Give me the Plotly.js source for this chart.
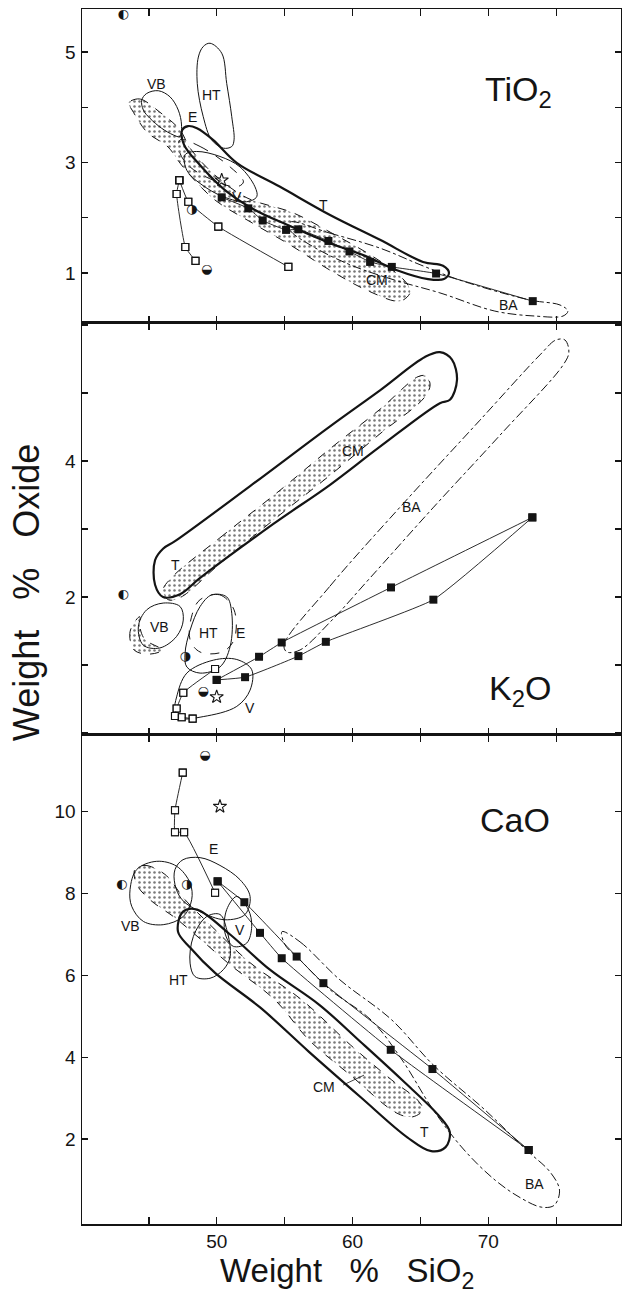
<!DOCTYPE html>
<html><head><meta charset="utf-8">
<script src="https://cdn.plot.ly/plotly-3.0.1.min.js"></script>
<style>html,body{margin:0;padding:0;background:#fff}</style>
</head><body><div id="chart" style="width:622px;height:1297px"></div>
<script>
// ---------------- axis ticks ----------------
const X_TICKS = [50,60,70];
const X_TICK_TEXT = ['50','60','70'];
const X_MINOR_STEP = 5;
const TI_TICKS = [1,3,5];
const TI_TICK_TEXT = ['1','3','5'];
const K_TICKS = [2,4];
const K_TICK_TEXT = ['2','4'];
const Y_MINOR_STEP = 1;
const CA_TICKS = [2,4,6,8,10];
const CA_TICK_TEXT = ['2','4','6','8','10'];

// ---------------- TiO2 panel ----------------
const TI_OPEN_A_X = [47.24,47.04,47.68,48.43];
const TI_OPEN_A_Y = [2.68,2.43,1.47,1.22];
const TI_OPEN_B_X = [47.24,47.90,50.11,55.27];
const TI_OPEN_B_Y = [2.68,2.29,1.84,1.11];
const TI_FILL_X = [50.36,52.32,53.38,55.10,56.01,58.22,59.77,61.29,62.89,66.15,73.27];
const TI_FILL_Y = [2.37,2.17,1.95,1.78,1.79,1.58,1.39,1.20,1.11,0.99,0.49];
const TI_HALF_X = [43.10,48.15,49.25];
const TI_HALF_Y = [5.67,2.14,1.05];
const TI_HALF_GLYPH = ['◐','◑','◒'];
const TI_STAR_X = [50.36];
const TI_STAR_Y = [2.68];

const TI_HT_X = [49.50,50.36,50.73,51.10,51.27,51.10,50.48,49.62,49.00,48.56,48.64,49.00];
const TI_HT_Y = [5.16,4.98,4.43,3.83,3.41,3.29,3.26,3.41,3.83,4.43,4.91,5.10];
const TI_VB_X = [44.47,44.83,45.69,46.55,47.16,47.40,47.28,46.79,45.94,45.08,44.59];
const TI_VB_Y = [4.13,4.25,4.30,4.19,3.95,3.68,3.47,3.50,3.62,3.80,3.95];
const TI_V_X = [47.66,48.52,50.23,51.71,52.81,52.94,52.20,50.48,48.77,47.79];
const TI_V_Y = [3.14,3.20,3.11,2.92,2.56,2.38,2.29,2.38,2.62,2.86];
const TI_E_X = [47.29,48.77,50.98,51.96,51.47,49.74,48.03,47.29];
const TI_E_Y = [3.41,3.29,2.92,2.65,2.56,2.68,2.92,3.17];
const TI_T_X = [47.45,47.88,48.54,49.72,51.49,54.66,58.34,62.02,65.19,66.66,67.10,66.73,65.56,63.27,60.92,58.34,55.39,52.81,50.60,48.77,47.59];
const TI_T_Y = [3.59,3.66,3.62,3.41,2.99,2.56,2.05,1.60,1.20,1.13,1.00,0.89,0.89,1.05,1.31,1.54,1.85,2.14,2.50,2.95,3.32];
const TI_CM_X = [43.61,44.35,45.81,47.29,48.03,49.87,52.22,55.61,58.34,61.29,63.12,64.08,64.23,63.49,61.29,58.34,55.39,52.51,49.87,48.03,47.29,46.41,44.86,43.76,43.47];
const TI_CM_Y = [4.11,4.15,3.91,3.59,3.26,2.77,2.36,2.09,1.74,1.33,1.02,0.78,0.64,0.49,0.66,1.05,1.51,1.92,2.32,2.77,2.99,3.28,3.55,3.95,4.08];
const TI_BA_X = [55.39,58.34,62.02,64.97,67.91,73.06,75.28,75.86,75.50,73.43,70.48,66.43,63.12,59.80,56.86,55.39];
const TI_BA_Y = [1.92,1.72,1.45,1.15,0.87,0.51,0.42,0.31,0.22,0.22,0.31,0.64,0.87,1.15,1.51,1.78];
const TI_LABELS = ['VB','HT','E','V','T','CM','BA'];
const TI_LABEL_X = [45.57,49.62,48.24,51.47,57.83,61.79,71.47];
const TI_LABEL_Y = [4.43,4.22,3.83,2.38,2.23,0.87,0.42];

// ---------------- K2O panel ----------------
const K_OPEN_X = [49.87,47.53,47.04,46.92,47.41,48.22];
const K_OPEN_Y = [0.94,0.59,0.36,0.25,0.23,0.21];
const K_FILL_UP_X = [49.99,53.11,54.78,62.83,73.24];
const K_FILL_UP_Y = [0.78,1.12,1.33,2.14,3.17];
const K_FILL_LO_X = [49.99,52.08,56.01,58.03,65.95,73.24];
const K_FILL_LO_Y = [0.78,0.82,1.13,1.34,1.96,3.17];
const K_HALF_X = [43.10,47.66,49.00];
const K_HALF_Y = [2.03,1.12,0.61];
const K_HALF_GLYPH = ['◐','◑','◒'];
const K_STAR_X = [49.99];
const K_STAR_Y = [0.53];

const K_T_X = [45.45,46.04,46.92,52.45,58.34,62.02,65.33,66.43,67.32,67.69,67.17,66.43,62.02,58.34,54.14,48.77,47.29,46.04,45.45];
const K_T_Y = [2.54,2.71,2.82,3.63,4.51,5.04,5.53,5.60,5.49,5.19,4.90,4.85,4.21,3.65,3.07,2.28,2.04,2.00,2.18];
const K_CM_X = [46.70,50.23,54.66,58.34,62.02,64.82,65.41,65.71,65.27,62.02,58.34,54.66,50.23,47.29,46.41,46.04];
const K_CM_Y = [2.29,2.87,3.57,4.18,4.76,5.24,5.25,5.12,4.93,4.40,3.79,3.21,2.49,1.99,1.96,2.10];
const K_LOBE_X = [44.32,43.61,43.91,45.09,45.97,44.72,44.35];
const K_LOBE_Y = [1.71,1.49,1.22,1.16,1.22,1.37,1.54];
const K_VB_X = [44.22,44.83,46.05,47.29,47.53,47.04,45.81,44.59];
const K_VB_Y = [1.56,1.81,1.91,1.86,1.66,1.42,1.25,1.29];
const K_HT_X = [49.62,50.73,51.10,50.98,50.23,48.77,47.79,47.66,48.03,48.77];
const K_HT_Y = [2.03,2.00,1.76,1.27,0.97,0.88,0.97,1.17,1.51,1.86];
const K_E_X = [48.77,50.23,51.27,51.27,50.39,48.77,48.03,48.18];
const K_E_Y = [1.96,2.03,1.81,1.37,1.19,1.19,1.37,1.74];
const K_V_X = [47.04,47.79,49.74,51.47,52.57,52.45,51.47,49.00,47.29,46.92];
const K_V_Y = [0.53,0.88,1.07,1.08,0.93,0.63,0.39,0.24,0.22,0.34];
const K_BA_X = [54.95,58.34,63.49,69.38,73.80,74.98,75.64,75.93,75.50,70.86,65.92,61.29,58.34,56.13,55.17];
const K_BA_Y = [1.29,2.16,3.32,4.60,5.56,5.78,5.78,5.60,5.41,4.38,3.31,2.28,1.63,1.22,1.19];
const K_LABELS = ['T','CM','BA','VB','HT','E','V'];
const K_LABEL_X = [46.92,60.03,64.36,45.81,49.37,51.71,52.45];
const K_LABEL_Y = [2.47,4.14,3.33,1.56,1.47,1.47,0.36];

// ---------------- CaO panel ----------------
const C_OPEN_X = [47.49,46.92,46.92,47.59,49.87];
const C_OPEN_Y = [10.96,10.04,9.50,9.50,8.02];
const C_FILL_A_X = [50.06,52.03,55.88,57.85,65.88,72.97];
const C_FILL_A_Y = [8.30,7.79,6.46,5.81,3.71,1.73];
const C_FILL_B_X = [50.06,53.18,54.78,62.81,72.97];
const C_FILL_B_Y = [8.30,7.04,6.42,4.18,1.73];
const C_HALF_X = [49.12,43.00,47.78];
const C_HALF_Y = [11.37,8.22,8.22];
const C_HALF_GLYPH = ['◒','◐','◑'];
const C_STAR_X = [50.23];
const C_STAR_Y = [10.13];

const C_VB_X = [43.61,44.10,45.57,47.04,48.03,48.15,47.53,46.05,44.59,43.73];
const C_VB_Y = [8.10,8.59,8.79,8.67,8.26,7.85,7.44,7.24,7.32,7.69];
const C_CM_X = [43.96,44.71,46.18,47.66,49.50,52.45,56.26,59.84,62.89,64.79,65.18,64.41,63.27,59.84,56.79,54.28,50.98,48.40,46.92,45.08,44.11];
const C_CM_Y = [8.59,8.69,8.47,7.85,7.24,6.31,5.40,4.30,3.44,2.95,2.71,2.54,2.63,3.56,4.42,5.40,6.26,7.00,7.41,7.85,8.22];
const C_T_X = [47.51,48.54,50.98,53.91,57.55,60.60,63.65,66.32,67.16,66.85,65.79,64.03,60.60,56.79,53.21,49.87,48.03,47.14];
const C_T_Y = [7.56,7.61,7.00,6.14,5.28,4.37,3.44,2.58,2.17,1.80,1.70,2.04,3.02,4.13,5.21,6.06,6.68,7.07];
const C_HT_X = [48.27,49.26,50.23,50.73,50.98,50.48,49.50,48.40,48.03];
const C_HT_Y = [6.95,7.44,7.49,7.12,6.46,6.14,5.93,5.97,6.30];
const C_E_X = [46.92,47.51,48.77,50.23,51.71,52.45,52.08,50.60,48.77,47.44,46.92];
const C_E_Y = [8.59,8.83,8.88,8.69,8.34,7.93,7.49,7.36,7.56,7.85,8.22];
const C_V_X = [50.73,51.47,52.32,52.57,52.20,51.22,50.60];
const C_V_Y = [7.61,7.93,7.61,7.20,6.79,6.71,7.04];
const C_BA_X = [54.80,56.13,59.07,62.89,65.94,69.75,72.80,74.55,75.24,74.86,73.94,72.42,70.51,68.22,65.94,63.65,61.36,58.34,56.13,55.02];
const C_BA_Y = [7.07,6.82,5.89,4.91,3.81,2.71,1.73,1.19,0.75,0.38,0.33,0.55,0.99,1.73,2.71,3.93,4.91,5.65,6.38,6.75];
const C_CM_LEADER_X = [59.31,60.84];
const C_CM_LEADER_Y = [3.32,3.56];
const C_LABELS = ['E','VB','V','HT','CM','T','BA'];
const C_LABEL_X = [49.74,43.61,51.71,47.17,57.93,65.30,73.43];
const C_LABEL_Y = [9.08,7.20,7.12,5.89,3.26,2.17,0.91];

// ---------------- panel names ----------------
const PANEL_NAMES = ['TiO<sub>2</sub>','K<sub>2</sub>O','CaO'];
const PANEL_NAME_X = [72.2,72.33,71.97];
const PANEL_NAME_Y = [4.28,0.63,9.79];

// ================= drawing =================
const FONT = 'Liberation Sans, Arial, Helvetica, sans-serif';
const INK = '#141414';
const traces = [];

function loop(a){ return a.concat([a[0]]); }
function field(xs, ys, xa, ya, opt){
  const t = {type:'scatter', mode:'lines', x:loop(xs), y:loop(ys), xaxis:xa, yaxis:ya,
    line:{color:INK, width:opt.width||1, dash:opt.dash||'solid', shape:'spline', smoothing:1},
    hoverinfo:'skip', showlegend:false};
  if (opt.stipple){
    t.fill = 'toself';
    t.fillcolor = 'rgba(255,255,255,0)';
    t.fillpattern = {shape:'.', size:5, solidity:0.2, fgcolor:'#777', bgcolor:'rgba(255,255,255,0)'};
  }
  traces.push(t);
}
function series(xs, ys, xa, ya, sym, size, lineMode){
  const open = sym.indexOf('open') >= 0;
  traces.push({type:'scatter', mode: lineMode ? 'lines+markers' : 'markers', x:xs, y:ys, xaxis:xa, yaxis:ya,
    line:{color:INK, width:0.9, shape:'spline', smoothing:0.4},
    marker:{symbol:sym, size:size, color:INK, line:{color:INK, width: open ? 1.1 : 0}},
    hoverinfo:'skip', showlegend:false, cliponaxis:false});
}
function openBack(xs, ys, xa, ya, size){
  traces.push({type:'scatter', mode:'markers', x:xs, y:ys, xaxis:xa, yaxis:ya,
    marker:{symbol:'square', size:size-1, color:'#fff'}, hoverinfo:'skip', showlegend:false, cliponaxis:false});
}
function glyphs(xs, ys, g, xa, ya){
  traces.push({type:'scatter', mode:'text', x:xs, y:ys, text:g, xaxis:xa, yaxis:ya,
    textfont:{family:'DejaVu Sans', size:13, color:INK}, textposition:'middle center',
    hoverinfo:'skip', showlegend:false, cliponaxis:false});
}

// TiO2 (x3,y3)
field(TI_CM_X, TI_CM_Y, 'x3','y3', {dash:'dash', stipple:true});
field(TI_HT_X, TI_HT_Y, 'x3','y3', {});
field(TI_VB_X, TI_VB_Y, 'x3','y3', {});
field(TI_V_X, TI_V_Y, 'x3','y3', {});
field(TI_E_X, TI_E_Y, 'x3','y3', {dash:'dash'});
field(TI_T_X, TI_T_Y, 'x3','y3', {width:2.2});
field(TI_BA_X, TI_BA_Y, 'x3','y3', {dash:'dashdot'});
series(TI_OPEN_A_X, TI_OPEN_A_Y, 'x3','y3','square-open',7,true);
series(TI_OPEN_B_X, TI_OPEN_B_Y, 'x3','y3','square-open',7,true);
openBack(TI_OPEN_A_X.concat(TI_OPEN_B_X), TI_OPEN_A_Y.concat(TI_OPEN_B_Y), 'x3','y3',7);
series(TI_OPEN_A_X.concat(TI_OPEN_B_X), TI_OPEN_A_Y.concat(TI_OPEN_B_Y), 'x3','y3','square-open',7,false);
series(TI_FILL_X, TI_FILL_Y, 'x3','y3','square',8,true);
series(TI_STAR_X, TI_STAR_Y, 'x3','y3','star-open',10,false);
glyphs(TI_HALF_X, TI_HALF_Y, TI_HALF_GLYPH, 'x3','y3');

// K2O (x2,y2)
field(K_CM_X, K_CM_Y, 'x2','y2', {dash:'dash', stipple:true});
field(K_LOBE_X, K_LOBE_Y, 'x2','y2', {dash:'dash', stipple:true});
field(K_T_X, K_T_Y, 'x2','y2', {width:2.2});
field(K_VB_X, K_VB_Y, 'x2','y2', {});
field(K_HT_X, K_HT_Y, 'x2','y2', {});
field(K_E_X, K_E_Y, 'x2','y2', {dash:'dash'});
field(K_V_X, K_V_Y, 'x2','y2', {});
field(K_BA_X, K_BA_Y, 'x2','y2', {dash:'dashdot'});
series(K_OPEN_X, K_OPEN_Y, 'x2','y2','square-open',7,true);
openBack(K_OPEN_X, K_OPEN_Y, 'x2','y2',7);
series(K_OPEN_X, K_OPEN_Y, 'x2','y2','square-open',7,false);
series(K_FILL_UP_X, K_FILL_UP_Y, 'x2','y2','square',8,true);
series(K_FILL_LO_X, K_FILL_LO_Y, 'x2','y2','square',8,true);
series(K_STAR_X, K_STAR_Y, 'x2','y2','star-open',10,false);
glyphs(K_HALF_X, K_HALF_Y, K_HALF_GLYPH, 'x2','y2');

// CaO (x,y)
field(C_CM_X, C_CM_Y, 'x','y', {dash:'dash', stipple:true});
field(C_VB_X, C_VB_Y, 'x','y', {});
field(C_T_X, C_T_Y, 'x','y', {width:2.2});
field(C_HT_X, C_HT_Y, 'x','y', {});
field(C_E_X, C_E_Y, 'x','y', {});
field(C_V_X, C_V_Y, 'x','y', {});
field(C_BA_X, C_BA_Y, 'x','y', {dash:'dashdot'});
traces.push({type:'scatter', mode:'lines', x:C_CM_LEADER_X, y:C_CM_LEADER_Y, xaxis:'x', yaxis:'y',
  line:{color:INK, width:0.8}, hoverinfo:'skip', showlegend:false});
series(C_OPEN_X, C_OPEN_Y, 'x','y','square-open',7,true);
openBack(C_OPEN_X, C_OPEN_Y, 'x','y',7);
series(C_OPEN_X, C_OPEN_Y, 'x','y','square-open',7,false);
series(C_FILL_A_X, C_FILL_A_Y, 'x','y','square',8,true);
series(C_FILL_B_X, C_FILL_B_Y, 'x','y','square',8,true);
series(C_STAR_X, C_STAR_Y, 'x','y','star-open',10,false);
glyphs(C_HALF_X, C_HALF_Y, C_HALF_GLYPH, 'x','y');

// annotations
const ann = [];
function labels(txt, xs, ys, xa, ya){
  txt.forEach((t,i)=>ann.push({text:t, x:xs[i], y:ys[i], xref:xa, yref:ya, showarrow:false,
    font:{family:FONT, size:14, color:INK}, xanchor:'center', yanchor:'middle'}));
}
labels(TI_LABELS, TI_LABEL_X, TI_LABEL_Y, 'x3','y3');
labels(K_LABELS, K_LABEL_X, K_LABEL_Y, 'x2','y2');
labels(C_LABELS, C_LABEL_X, C_LABEL_Y, 'x','y');
const panelAxes = [['x3','y3'],['x2','y2'],['x','y']];
PANEL_NAMES.forEach((t,i)=>ann.push({text:t, x:PANEL_NAME_X[i], y:PANEL_NAME_Y[i], xref:panelAxes[i][0], yref:panelAxes[i][1],
  showarrow:false, font:{family:FONT, size:34, color:INK}, xanchor:'center', yanchor:'middle'}));
ann.push({text:'Weight\u00a0\u00a0 %\u00a0\u00a0 Oxide', xref:'paper', yref:'paper', x:-0.104, y:0.52, textangle:-90,
  showarrow:false, font:{family:FONT, size:36, color:INK}, xanchor:'center', yanchor:'middle'});
ann.push({text:'Weight\u00a0\u00a0 %\u00a0\u00a0 SiO<sub>2</sub>', xref:'paper', yref:'paper', x:0.4917, y:-0.0405,
  showarrow:false, font:{family:FONT, size:33, color:INK}, xanchor:'center', yanchor:'middle'});

const XR = [40.07, 79.77];
function xax(anchor, labelsOn){
  return {range:XR, anchor:anchor, tickvals:X_TICKS, ticktext:X_TICK_TEXT, showticklabels:labelsOn,
    ticks:'inside', ticklen:7, tickwidth:1.2, tickcolor:INK, showline:true, linecolor:INK, linewidth:1.5,
    minor:{ticks:'inside', ticklen:7, tickwidth:1.2, tickcolor:INK, dtick:X_MINOR_STEP, tick0:45, showgrid:false},
    mirror:'allticks', showgrid:false, zeroline:false, fixedrange:true,
    tickfont:{family:FONT, size:19, color:INK}, ticklabelstandoff:0};
}
function yax(range, dom, tv, tt){
  return {range:range, domain:dom, tickvals:tv, ticktext:tt, ticks:'inside', ticklen:6, tickwidth:1.2,
    minor:{ticks:'inside', ticklen:6, tickwidth:1.2, tickcolor:INK, dtick:Y_MINOR_STEP, tick0:0, showgrid:false},
    tickcolor:INK, showline:true, linecolor:INK, linewidth:1.5, mirror:'allticks', showgrid:false,
    zeroline:false, fixedrange:true, tickfont:{family:FONT, size:19, color:INK}, ticklabelstandoff:1};
}
const yCa = yax([-0.08, 11.88], [0, 0.4025], CA_TICKS, CA_TICK_TEXT);
yCa.minor = {ticks:'', showgrid:false};
const layout = {
  width:622, height:1297, margin:{l:82, r:1, t:9, b:73},
  paper_bgcolor:'#fff', plot_bgcolor:'#fff', showlegend:false,
  xaxis: xax('y', true),
  xaxis2: Object.assign(xax('y2', false), {matches:'x'}),
  xaxis3: Object.assign(xax('y3', false), {matches:'x'}),
  yaxis: yCa,
  yaxis2: yax([-0.03, 6.03], [0.4025, 0.7416], K_TICKS, K_TICK_TEXT),
  yaxis3: yax([0.095, 5.78], [0.7416, 1], TI_TICKS, TI_TICK_TEXT),
  annotations: ann
};
Plotly.newPlot('chart', traces, layout, {staticPlot:true, displayModeBar:false});
</script></body></html>
